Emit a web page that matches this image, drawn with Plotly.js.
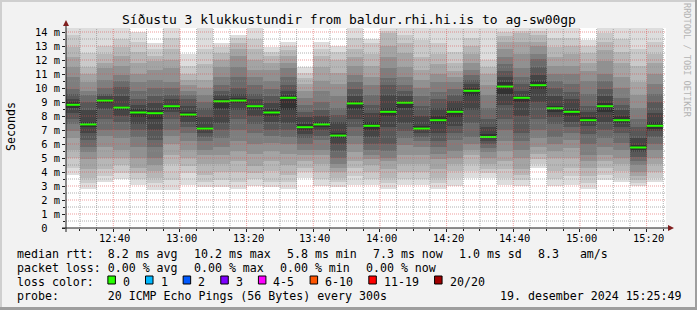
<!DOCTYPE html>
<html><head><meta charset="utf-8">
<script src="https://cdn.plot.ly/plotly-3.0.1.min.js"></script>
<style>html,body{margin:0;padding:0;background:#f2f2f2}#chart{width:697px;height:310px}</style>
</head><body><div id="chart"></div>
<script>
// ---------------- data ----------------
const dayParts = [2024, 11, 19];
const rangeStart = "12:25:49";
const rangeEnd = "15:25:49";
const barEnds = ["12:30","12:35","12:40","12:45","12:50","12:55","13:00","13:05","13:10","13:15","13:20","13:25",
  "13:30","13:35","13:40","13:45","13:50","13:55","14:00","14:05","14:10","14:15","14:20","14:25",
  "14:30","14:35","14:40","14:45","14:50","14:55","15:00","15:05","15:10","15:15","15:20","15:25"];
const medians = [8.8,7.4,9.1,8.6,8.25,8.2,8.7,8.1,7.1,9.05,9.1,8.7,8.25,9.3,7.2,7.4,6.6,8.9,7.3,8.3,8.95,7.1,
  7.7,8.3,9.8,6.5,10.1,9.3,10.2,8.55,8.3,7.7,8.7,7.7,5.75,7.3];
const lossCount = [0,0,0,0,0,0,0,0,0,0,0,0,0,0,0,0,0,0,0,0,0,0,0,0,0,0,0,0,0,0,0,0,0,0,0,0];
// 20 sorted ping times (ms) per 5-minute bar
const pings = [
 [3.8,4.3,5.0,5.6,6.4,6.9,7.4,7.8,8.2,8.6,9.0,9.2,9.6,9.9,10.8,11.5,12.2,12.9,13.8,14.3],
 [2.8,3.2,3.6,4.2,4.9,5.4,5.8,6.3,6.8,7.2,7.6,8.4,9.0,9.5,9.8,10.4,11.0,11.5,12.5,14.3],
 [3.3,3.7,4.2,5.0,5.8,6.6,7.0,7.8,8.5,8.9,9.2,9.4,9.6,10.0,10.6,11.4,11.8,12.4,13.0,14.3],
 [3.5,3.9,4.5,5.0,5.6,6.4,7.0,7.6,8.0,8.4,8.7,9.4,10.1,10.5,10.9,11.6,12.3,12.9,13.5,14.3],
 [3.1,3.5,3.9,4.3,5.0,5.8,6.5,7.0,7.4,7.9,8.5,8.8,9.2,9.8,10.4,11.0,11.8,12.6,13.3,14.0],
 [2.7,3.2,3.6,4.1,4.5,5.0,5.8,6.3,7.0,7.8,8.4,8.9,9.4,10.0,10.6,11.3,11.9,12.3,12.8,13.2],
 [2.7,3.4,4.6,5.2,6.0,6.6,7.0,7.8,8.3,8.5,8.8,9.2,9.5,10.0,10.4,11.4,12.0,12.8,13.6,14.3],
 [3.1,3.9,4.4,5.0,5.6,6.2,6.8,7.2,7.6,7.9,8.3,8.7,9.2,9.5,9.8,10.2,10.6,11.0,11.6,12.4],
 [2.9,3.3,3.8,4.6,5.2,5.6,6.2,6.5,6.8,7.0,7.2,7.9,8.6,9.0,9.5,10.0,10.6,11.7,12.8,14.3],
 [2.9,3.4,4.0,4.6,5.2,5.8,6.4,7.0,7.5,8.5,9.2,9.5,9.8,10.2,10.8,11.5,12.0,12.5,12.9,13.2],
 [2.8,3.3,4.0,4.8,5.5,6.2,7.0,7.8,8.4,8.9,9.3,9.6,10.0,10.8,11.5,12.3,12.8,13.2,13.6,13.8],
 [3.0,3.5,3.9,4.4,5.3,6.0,6.8,7.4,8.0,8.5,8.8,9.2,9.6,10.2,10.8,11.3,12.0,12.8,13.5,14.3],
 [2.9,3.3,4.1,4.8,5.5,6.1,6.6,7.0,7.6,8.0,8.5,8.9,9.4,9.9,10.5,11.3,11.8,12.3,12.6,12.9],
 [2.8,3.3,3.8,4.5,5.3,6.0,6.5,7.0,7.5,8.4,9.5,9.8,10.2,10.8,11.4,11.8,12.3,12.7,13.0,13.3],
 [3.6,4.0,4.3,4.8,5.2,5.6,6.0,6.4,6.7,7.0,7.4,7.9,8.3,8.8,9.3,9.8,10.3,10.7,11.1,11.5],
 [3.0,3.5,4.0,4.6,5.2,5.6,6.3,6.6,7.0,7.2,7.6,8.0,8.4,9.0,9.8,10.5,11.5,12.3,12.8,13.3],
 [2.9,3.3,3.6,4.0,4.3,4.6,5.0,5.5,6.0,6.4,6.8,7.6,8.1,8.6,9.4,10.3,11.1,12.0,12.6,13.0],
 [3.1,3.7,4.3,4.8,5.4,6.0,6.6,7.2,7.8,8.5,9.1,9.4,9.9,10.4,10.9,11.6,12.2,12.8,13.6,14.3],
 [3.1,3.5,4.0,4.5,4.9,5.2,5.6,6.0,6.5,7.0,7.6,8.2,8.8,9.5,10.2,10.8,11.6,12.4,13.2,13.5],
 [2.8,3.2,3.6,4.2,4.8,5.0,5.5,6.0,7.2,8.0,8.6,9.5,10.2,10.7,11.4,12.2,13.0,13.9,14.1,14.3],
 [3.1,3.5,4.0,4.6,5.2,5.9,6.4,6.9,7.5,8.6,9.1,9.4,9.8,10.2,10.8,11.5,12.5,13.2,13.8,14.3],
 [3.1,3.5,4.0,4.6,5.2,5.8,6.2,6.5,6.8,7.0,7.3,8.0,8.7,9.4,10.0,10.6,11.3,12.2,13.4,14.3],
 [2.8,3.2,3.6,4.2,4.9,5.3,5.8,6.2,6.8,7.4,8.0,8.6,9.2,9.7,10.4,11.0,11.7,12.4,13.2,14.3],
 [3.0,3.6,4.1,4.6,5.0,5.5,6.3,6.8,7.3,7.9,8.6,9.1,9.5,9.9,10.4,10.8,11.2,11.8,12.6,14.3],
 [3.6,4.1,4.6,5.2,5.6,6.0,6.5,7.5,8.4,9.4,10.0,10.3,10.6,10.9,11.3,11.8,12.4,13.0,13.6,14.3],
 [3.6,3.9,4.2,4.6,5.0,5.4,5.7,6.0,6.2,6.4,6.7,7.2,7.8,8.6,9.5,10.2,11.0,11.5,12.0,14.3],
 [3.1,3.6,4.2,4.8,5.5,6.2,7.0,7.8,8.8,9.6,10.4,10.8,11.2,11.7,12.2,12.8,13.3,13.7,14.0,14.3],
 [3.0,3.4,3.8,4.2,5.0,5.6,6.2,6.8,8.0,9.0,9.4,9.8,10.3,10.8,11.4,12.4,13.3,13.9,14.1,14.3],
 [4.3,4.6,4.9,5.3,5.8,6.4,7.0,7.8,9.0,9.9,10.5,10.9,11.5,12.1,12.4,13.0,13.3,13.8,14.1,14.3],
 [3.0,3.5,4.1,5.0,5.5,6.0,6.5,7.4,7.9,8.3,8.7,9.4,10.0,10.5,11.0,11.6,12.2,12.9,13.6,14.3],
 [3.1,3.7,4.3,5.0,5.7,6.3,6.8,7.2,7.6,8.0,8.5,9.2,9.7,10.3,11.0,11.6,12.4,13.0,13.6,14.3],
 [2.8,3.2,3.7,4.3,4.8,5.2,6.0,6.7,7.3,7.6,7.9,8.3,8.7,9.6,10.5,11.2,11.8,12.5,13.0,13.4],
 [3.4,3.8,4.3,4.8,5.2,5.8,6.4,7.0,7.6,8.3,8.9,9.4,9.9,10.5,11.0,11.9,12.7,13.3,13.9,14.3],
 [3.3,3.6,4.1,4.6,5.0,5.6,6.1,6.8,7.2,7.5,8.0,8.4,8.8,9.3,10.0,10.8,11.8,12.6,13.5,14.3],
 [3.0,3.2,3.4,3.7,4.0,4.5,4.8,5.1,5.4,5.6,5.9,6.4,7.2,7.8,8.6,9.5,10.4,11.6,12.8,14.3],
 [3.3,3.6,4.0,4.6,5.0,5.6,6.0,6.5,6.9,7.1,7.6,8.2,9.0,9.6,10.3,11.0,11.8,12.4,13.3,14.3]
];
const yTickVals = [0,1,2,3,4,5,6,7,8,9,10,11,12,13,14];
const yTickText = ["0\u00a0\u00a0","1 m","2 m","3 m","4 m","5 m","6 m","7 m","8 m","9 m","10 m","11 m","12 m","13 m","14 m"];
const xTickLabels = ["12:40","13:00","13:20","13:40","14:00","14:20","14:40","15:00","15:20"];
const lossLabels = ["0","1","2","3","4-5","6-10","11-19","20/20"];
const lossColors = ["#26ff00","#00b8ff","#0059ff","#7e00ff","#ff00ff","#ff5500","#ff0000","#a10000"];
const lossThresholds = [0,1,2,3,4,6,11,20];
const titleText = "Síðustu 3 klukkustundir from baldur.rhi.hi.is to ag-sw00gp";
const legendRow1 = ["median rtt:  8.2 ms avg","10.2 ms max","5.8 ms min","7.3 ms now","1.0 ms sd","8.3   am/s"];
const legendRow2 = ["packet loss: 0.00 % avg","0.00 % max","0.00 % min","0.00 % now"];
const probeText = "probe:       20 ICMP Echo Pings (56 Bytes) every 300s";
const dateStamp = "19. desember 2024 15:25:49";

// ---------------- helpers ----------------
const FONT = "DejaVu Sans Mono";
function t(hms){const p=hms.split(":").map(Number);return Date.UTC(dayParts[0],dayParts[1],dayParts[2],p[0],p[1],p[2]||0);}
const PL=66, PT=28, PW=600, PH=200;
const px = x => (x-PL)/PW;
const py = y => (PT+PH-y)/PH;
const STEP = 300000;
const ends = barEnds.map(t);
const starts = ends.map(e=>e-STEP);
const centers = ends.map(e=>e-STEP/2);

const data = [];
// smoke bands, outer (light) to inner (dark)
const HALF = 10;
for (let i=0;i<HALF;i++){
  const g = Math.floor(190/HALF*(HALF-1-i))+50;
  const hex = g.toString(16).padStart(2,"0");
  data.push({type:"bar", x:centers, base:pings.map(r=>r[i]), y:pings.map(r=>r[19-i]-r[i]),
    width:STEP, marker:{color:"#"+hex+hex+hex, line:{width:0}}, hoverinfo:"skip"});
}
// median step line (dotted)
data.push({type:"scatter", mode:"lines", x:starts.concat([ends[ends.length-1]]), y:medians.concat([medians[medians.length-1]]),
  line:{shape:"hv", color:"#1a1a1a", width:1, dash:"1px,1px"}, hoverinfo:"skip"});
// median loss-coloured segments
function lossColor(n){let c=lossColors[0];lossThresholds.forEach((th,k)=>{if(n>=th)c=lossColors[k];});return c;}
const segX=[], segY=[];
medians.forEach((m,k)=>{segX.push(starts[k],ends[k],null);segY.push(m,m,null);});
data.push({type:"scatter", mode:"lines", x:segX, y:segY, line:{color:lossColor(lossCount[0]), width:2}, hoverinfo:"skip"});

// ---------------- layout ----------------
const shapes = [];
const GRID = "rgba(143,143,143,0.7)", MGRID = "rgba(222,79,79,0.55)";
for (let k=1;k<=28;k++){
  const v=k*0.5;
  shapes.push({type:"line", layer:"above", xref:"paper", yref:"y", x0:0, x1:1, y0:v, y1:v,
    line:{color:(k%2===0)?MGRID:GRID, width:1, dash:"1px,1px"}});
}
for (let tm=t("12:30"); tm<=t("15:25"); tm+=STEP){
  const minute = new Date(tm).getUTCMinutes();
  shapes.push({type:"line", layer:"above", xref:"x", yref:"paper", x0:tm, x1:tm, y0:0, y1:1,
    line:{color:(minute%20===0)?MGRID:GRID, width:1, dash:"1px,1px"}});
}
// axes lines + arrows
shapes.push({type:"line", layer:"above", xref:"paper", yref:"paper", x0:px(62), x1:px(670), y0:0, y1:0, line:{color:"#1f1f1f", width:1}});
shapes.push({type:"line", layer:"above", xref:"paper", yref:"paper", x0:0, x1:0, y0:py(232), y1:py(23), line:{color:"#1f1f1f", width:1}});
shapes.push({type:"path", layer:"above", xref:"paper", yref:"paper",
  path:`M ${px(66-3)} ${py(26)} L ${px(66+3)} ${py(26)} L ${px(66)} ${py(20)} Z`, fillcolor:"#801f1f", line:{width:0}});
shapes.push({type:"path", layer:"above", xref:"paper", yref:"paper",
  path:`M ${px(668)} ${py(225)} L ${px(668)} ${py(231)} L ${px(674)} ${py(228)} Z`, fillcolor:"#801f1f", line:{width:0}});
// outer frame
shapes.push({type:"rect", layer:"above", xref:"paper", yref:"paper", x0:px(0), x1:px(697), y0:py(0), y1:py(2), fillcolor:"#cfcfcf", line:{width:0}});
shapes.push({type:"rect", layer:"above", xref:"paper", yref:"paper", x0:px(0), x1:px(2), y0:py(0), y1:py(310), fillcolor:"#cfcfcf", line:{width:0}});
shapes.push({type:"rect", layer:"above", xref:"paper", yref:"paper", x0:px(0), x1:px(697), y0:py(307), y1:py(310), fillcolor:"#9e9e9e", line:{width:0}});
shapes.push({type:"rect", layer:"above", xref:"paper", yref:"paper", x0:px(695), x1:px(697), y0:py(0), y1:py(310), fillcolor:"#9e9e9e", line:{width:0}});

const annotations = [];
const NB = s => s.replace(/ /g, "\u00a0");
function ann(text, x, y, o){
  o=o||{};
  annotations.push(Object.assign({text:NB(text), xref:"paper", yref:"paper", x:px(x), y:py(y), showarrow:false,
    xanchor:"left", yanchor:"middle", borderpad:0, borderwidth:0, font:{family:FONT, size:11.6, color:"#000"}}, o));
}
ann(titleText, 348.5, 19.5, {xanchor:"center", font:{family:FONT, size:13, color:"#000"}});
ann("Seconds", 11, 127, {xanchor:"center", textangle:-90});
ann("RRDTOOL / TOBI OETIKER", 687, 60, {xanchor:"center", textangle:90, font:{family:FONT, size:8.6, color:"#b4b4b4"}});
// x tick labels on the time axis
xTickLabels.forEach(lab=>{
  annotations.push({text:lab, xref:"x", yref:"paper", x:t(lab), y:py(237.5), xshift:1.5, showarrow:false,
    xanchor:"center", yanchor:"middle", borderpad:0, borderwidth:0, font:{family:FONT, size:10.4, color:"#000"}});
});
// legend lines: items laid out left to right, monospace width + fixed gap (rrdtool style)
const CW = 7.03, GAP = 15.6, LX = 16.7;
const ROW=[253.7,267.9,282.1,296.3];
function placeRow(items, y){let x=LX; items.forEach(s=>{ann(s, x, y); x += s.length*CW + GAP;});}
placeRow(legendRow1, ROW[0]);
placeRow(legendRow2, ROW[1]);
ann("loss color:", LX, ROW[2]);
let bx = LX + 13*CW - 0.2;
lossLabels.forEach((lab,k)=>{
  shapes.push({type:"rect", layer:"above", xref:"paper", yref:"paper", x0:px(bx), x1:px(bx+7.5), y0:py(276), y1:py(284),
    fillcolor:lossColors[k], line:{color:"#000", width:1}});
  ann(lab, bx+15, ROW[2]);
  bx += 15 + lab.length*CW + GAP;
});
ann(probeText, LX, ROW[3]);
ann(dateStamp, 682, ROW[3], {xanchor:"right"});

const layout = {
  width:697, height:310, paper_bgcolor:"#f2f2f2", plot_bgcolor:"#ffffff",
  margin:{l:PL, r:697-PL-PW, t:PT, b:310-PT-PH, pad:0}, showlegend:false,
  barmode:"overlay", bargap:0,
  xaxis:{type:"date", range:[t(rangeStart), t(rangeEnd)], tick0:t("12:00"), dtick:1200000, showticklabels:false,
    showgrid:false, zeroline:false, showline:false, ticks:"outside", ticklen:3, tickcolor:"#1f1f1f", tickwidth:1,
    minor:{dtick:STEP, tick0:t("12:00"), ticks:"outside", ticklen:2, tickcolor:"#1f1f1f", showgrid:false}, fixedrange:true},
  yaxis:{range:[0, PH/14], tickvals:yTickVals, ticktext:yTickText, showgrid:false, zeroline:false, showline:false,
    ticks:"outside", ticklen:3, tickcolor:"#1f1f1f", tickwidth:1,
    minor:{dtick:0.5, ticks:"outside", ticklen:2, tickcolor:"#1f1f1f", showgrid:false},
    tickfont:{family:FONT, size:10.4, color:"#000"}, fixedrange:true},
  shapes:shapes, annotations:annotations
};
Plotly.newPlot("chart", data, layout, {staticPlot:true, displayModeBar:false});
</script></body></html>
